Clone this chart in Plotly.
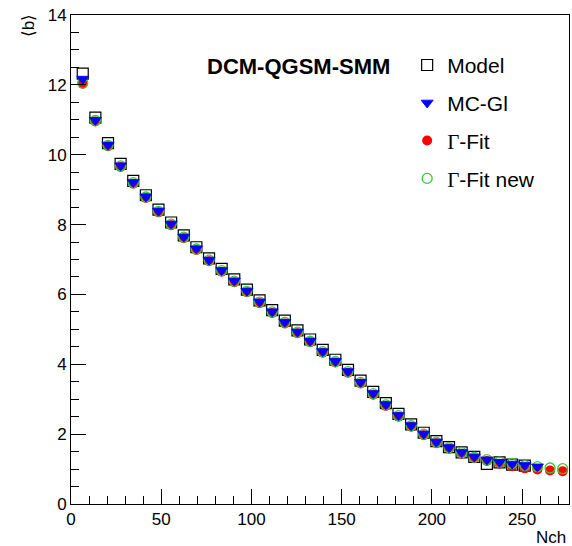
import plotly.graph_objects as go

# Nch bin centres
nch = [6.5, 13.5, 20.5, 27.5, 34.5, 41.5, 48.5, 55.5, 62.5, 69.5,
       76.5, 83.5, 90.5, 97.5, 104.5, 111.5, 118.5, 125.5, 132.5, 139.5,
       146.5, 153.5, 160.5, 167.5, 174.5, 181.5, 188.5, 195.5, 202.5, 209.5,
       216.5, 223.5, 230.5, 237.5, 244.5, 251.5, 258.5, 265.5, 272.5]

model = [12.32, 11.06, 10.33, 9.74, 9.25, 8.84, 8.43, 8.06, 7.69, 7.35,
         7.03, 6.73, 6.43, 6.14, 5.83, 5.55, 5.25, 4.97, 4.71, 4.41,
         4.13, 3.84, 3.53, 3.21, 2.89, 2.58, 2.28, 2.04, 1.80, 1.63,
         1.48, 1.35, 1.15, 1.19, 1.13, 1.10]

mcgl = [12.17, 10.99, 10.28, 9.69, 9.21, 8.80, 8.39, 8.02, 7.65, 7.31,
        6.99, 6.69, 6.39, 6.10, 5.79, 5.51, 5.21, 4.93, 4.67, 4.37,
        4.09, 3.80, 3.49, 3.17, 2.85, 2.54, 2.25, 2.01, 1.78, 1.62,
        1.48, 1.35, 1.27, 1.20, 1.15, 1.11, 1.07]

gfit = [12.03, 10.95, 10.24, 9.65, 9.17, 8.76, 8.35, 7.98, 7.61, 7.27,
        6.95, 6.65, 6.35, 6.06, 5.75, 5.47, 5.17, 4.89, 4.63, 4.33,
        4.05, 3.76, 3.45, 3.13, 2.81, 2.50, 2.21, 1.97, 1.74, 1.58,
        1.44, 1.31, 1.23, 1.15, 1.08, 1.02, 0.99, 0.96, 0.94]

gfit_new = [12.05, 10.98, 10.27, 9.68, 9.20, 8.79, 8.38, 8.01, 7.64, 7.30,
            6.98, 6.68, 6.38, 6.09, 5.78, 5.50, 5.20, 4.92, 4.66, 4.36,
            4.08, 3.79, 3.48, 3.16, 2.84, 2.53, 2.24, 2.00, 1.77, 1.61,
            1.47, 1.34, 1.27, 1.20, 1.16, 1.10, 1.07, 1.03, 1.01]

names = ["Model", "MC-Gl",
         "<span style='font-family:Liberation Serif'>Γ</span>-Fit",
         "<span style='font-family:Liberation Serif'>Γ</span>-Fit new"]

FONT = "Liberation Sans, Arial, sans-serif"

fig = go.Figure()
fig.add_trace(go.Scatter(x=nch[:len(model)], y=model, mode="markers", name=names[0],
                         legendgroup="a",
                         marker=dict(symbol="square-open", size=11, color="black",
                                     line=dict(width=1.2, color="black"))))
fig.add_trace(go.Scatter(x=nch[:len(gfit)], y=gfit, mode="markers", name=names[2],
                         legendgroup="c",
                         marker=dict(symbol="circle", size=10, color="#ff0000",
                                     line=dict(width=0))))
fig.add_trace(go.Scatter(x=nch[:len(gfit_new)], y=gfit_new, mode="markers", name=names[3],
                         legendgroup="d",
                         marker=dict(symbol="circle-open", size=10, color="#33cc33",
                                     line=dict(width=1.3, color="#33cc33"))))
fig.add_trace(go.Scatter(x=nch[:len(mcgl)], y=mcgl, mode="markers", name=names[1],
                         legendgroup="b",
                         marker=dict(symbol="triangle-down", size=10.5, color="#0000ff",
                                     line=dict(width=0.8, color="#0000ff"))))

# legend order: Model, MC-Gl, Γ-Fit, Γ-Fit new
for tr, rank in zip(fig.data, [1, 3, 4, 2]):
    tr.legendrank = rank

fig.update_layout(
    width=572, height=546,
    margin=dict(l=71, r=3, t=15, b=42),
    paper_bgcolor="white", plot_bgcolor="white",
    font=dict(family=FONT, size=17, color="black"),
    showlegend=True,
    legend=dict(x=0.675, y=0.939, xanchor="left", yanchor="top",
                bgcolor="rgba(0,0,0,0)", borderwidth=0,
                font=dict(family=FONT, size=21, color="black"),
                traceorder="grouped", tracegroupgap=7.5),
    xaxis=dict(range=[0, 276], showgrid=False, zeroline=False,
               showline=True, linecolor="black", linewidth=1, mirror=True,
               ticks="inside", ticklen=15, tickcolor="black", tickwidth=1,
               dtick=50, tick0=0,
               tickfont=dict(family=FONT, size=17, color="black"),
               minor=dict(ticks="inside", ticklen=8, dtick=10, tickcolor="black",
                          tickwidth=1, showgrid=False)),
    yaxis=dict(range=[0, 14], showgrid=False, zeroline=False,
               showline=True, linecolor="black", linewidth=1, mirror=True,
               ticks="inside", ticklen=15, tickcolor="black", tickwidth=1,
               dtick=2, tick0=0,
               tickfont=dict(family=FONT, size=17, color="black"),
               minor=dict(ticks="inside", ticklen=8, dtick=0.5, tickcolor="black",
                          tickwidth=1, showgrid=False)),
    annotations=[
        dict(text="<b>DCM-QGSM-SMM</b>", xref="paper", yref="paper",
             x=0.456, y=0.8937, xanchor="center", yanchor="middle", showarrow=False,
             font=dict(family=FONT, size=22, color="black")),
        dict(text="⟨b⟩", xref="paper", yref="paper", x=-0.0863, y=0.977,
             xanchor="center", yanchor="middle", textangle=-90, showarrow=False,
             font=dict(family=FONT, size=17, color="black")),
        dict(text="Nch", xref="paper", yref="paper", x=0.997, y=-0.0675,
             xanchor="right", yanchor="middle", showarrow=False,
             font=dict(family=FONT, size=17, color="black")),
    ],
)

fig.write_html("out.html")
